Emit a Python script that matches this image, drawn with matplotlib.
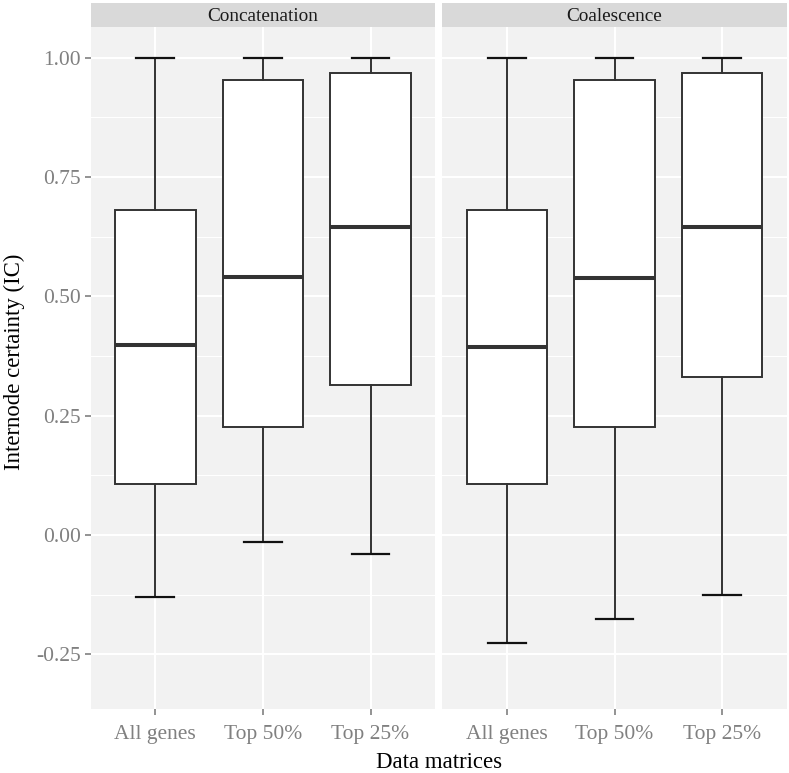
import matplotlib
matplotlib.use("Agg")
import matplotlib.pyplot as plt
from matplotlib.ticker import FixedLocator

plt.rcParams['font.family'] = ['Liberation Serif', 'DejaVu Serif']
plt.rcParams['axes.unicode_minus'] = False

facets = ["Concatenation", "Coalescence"]
categories = ["All genes", "Top 50%", "Top 25%"]

# whislo, q1, median, q3, whishi per facet
concat_whislo = [-0.129, -0.015, -0.040]
concat_q1 = [0.106, 0.227, 0.314]
concat_med = [0.398, 0.541, 0.645]
concat_q3 = [0.681, 0.953, 0.967]
concat_whishi = [1.00, 1.00, 1.00]

coal_whislo = [-0.226, -0.175, -0.126]
coal_q1 = [0.106, 0.227, 0.332]
coal_med = [0.393, 0.538, 0.645]
coal_q3 = [0.681, 0.953, 0.967]
coal_whishi = [1.00, 1.00, 1.00]

y_ticks = [-0.25, 0.00, 0.25, 0.50, 0.75, 1.00]
y_ticklabels = ["-0.25", "0.00", "0.25", "0.50", "0.75", "1.00"]
y_minor = [-0.125, 0.125, 0.375, 0.625, 0.875]

data = {
    "Concatenation": (concat_whislo, concat_q1, concat_med, concat_q3, concat_whishi),
    "Coalescence": (coal_whislo, coal_q1, coal_med, coal_q3, coal_whishi),
}

W, H = 789, 773
fig = plt.figure(figsize=(W / 100, H / 100), dpi=100)

panel_lefts = [90.7, 442.3]
panel_w = 344.4
panel_top = 26.7
panel_bot = 709.3
strip_top = 2.7

bg = "#F2F2F2"
strip_bg = "#D9D9D9"
tick_col = "#808080"

for i, facet in enumerate(facets):
    x0 = panel_lefts[i]
    ax = fig.add_axes([x0 / W, 1 - panel_bot / H, panel_w / W, (panel_bot - panel_top) / H])
    ax.set_facecolor(bg)
    for s in ax.spines.values():
        s.set_visible(False)

    wl, q1, md, q3, wh = data[facet]
    stats = []
    for k in range(3):
        stats.append(dict(whislo=wl[k], q1=q1[k], med=md[k], q3=q3[k], whishi=wh[k], fliers=[]))
    ax.bxp(stats, positions=[1, 2, 3], widths=0.75, capwidths=0.35, showfliers=False,
           patch_artist=True, manage_ticks=False,
           boxprops=dict(facecolor='white', edgecolor='#333333', linewidth=1.4),
           medianprops=dict(color='#333333', linewidth=2.9, solid_capstyle='butt'),
           whiskerprops=dict(color='#333333', linewidth=1.4),
           capprops=dict(color='#111111', linewidth=1.6))

    ax.set_xlim(0.4, 3.6)
    ax.set_ylim(-0.365, 1.065)
    ax.yaxis.set_major_locator(FixedLocator(y_ticks))
    ax.yaxis.set_minor_locator(FixedLocator(y_minor))
    ax.set_xticks([1, 2, 3])
    ax.set_xticklabels(categories)
    ax.grid(which='major', color='white', linewidth=1.5)
    ax.grid(which='minor', axis='y', color='white', linewidth=0.75)
    ax.set_axisbelow(True)
    ax.tick_params(axis='both', which='major', color=tick_col, length=4, width=1.2,
                   labelcolor=tick_col, labelsize=15.5, pad=3)
    ax.tick_params(axis='x', pad=7)
    ax.tick_params(which='minor', length=0)
    if i == 0:
        ax.set_yticklabels(y_ticklabels)
    else:
        ax.tick_params(axis='y', which='major', length=0, labelleft=False)

    sax = fig.add_axes([x0 / W, 1 - panel_top / H, panel_w / W, (panel_top - strip_top) / H])
    sax.set_facecolor(strip_bg)
    sax.set_xticks([])
    sax.set_yticks([])
    for s in sax.spines.values():
        s.set_visible(False)
    sax.text(0.5, 0.42, facet, ha='center', va='center', fontsize=13.9, color='#1A1A1A',
             transform=sax.transAxes)

fig.text(438.7 / W, 1 - 763 / H, "Data matrices", ha='center', va='center', fontsize=16.4, color='black')
fig.text(14 / W, 1 - 362 / H, "Internode certainty (IC)", ha='center', va='center', rotation=90,
         fontsize=16.4, color='black')

fig.savefig("out.png", dpi=100, facecolor='white')
